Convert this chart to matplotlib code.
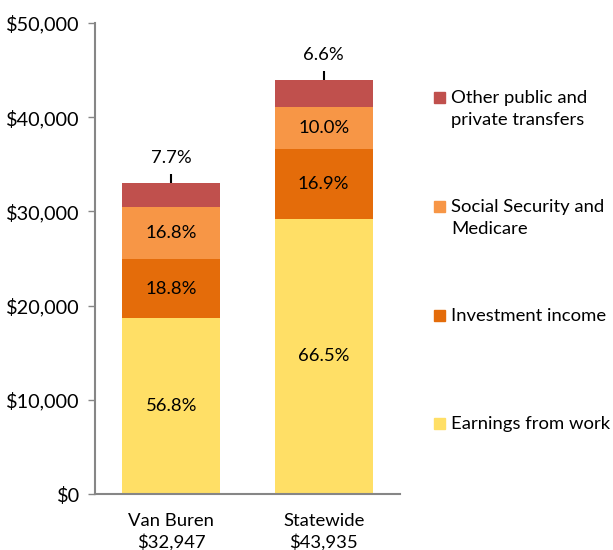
import matplotlib
matplotlib.use("Agg")
import matplotlib.pyplot as plt
from matplotlib.patches import Rectangle
import numpy as np

plt.rcParams['font.family'] = ['Lato', 'DejaVu Sans']

places = ["Van Buren", "Statewide"]
totals = [32947, 43935]
categories = ["Earnings from work", "Investment income",
              "Social Security and\nMedicare", "Other public and\nprivate transfers"]
pct_earnings = [56.8, 66.5]
pct_investment = [18.8, 16.9]
pct_social = [16.8, 10.0]
pct_other = [7.7, 6.6]
colors = ["#FFDF66", "#E46C0A", "#F79646", "#C0504D"]
yticks = [0, 10000, 20000, 30000, 40000, 50000]

pcts = [pct_earnings, pct_investment, pct_social, pct_other]

fig = plt.figure(figsize=(6.13, 5.5), dpi=100)
ax = fig.add_axes([95/613, 56/550, 305/613, 471/550])

x = np.arange(len(places))
bottom = np.zeros(len(places))
fs = 13.3
for k, (p, c) in enumerate(zip(pcts, colors)):
    vals = np.array(totals) * np.array(p) / 100.0
    ax.bar(x, vals, bottom=bottom, width=0.64, color=c, edgecolor='none')
    for i in range(len(places)):
        if k < 3:
            ax.text(x[i], bottom[i] + vals[i] / 2, f"{p[i]:.1f}%",
                    ha='center', va='center', fontsize=fs, color='black')
    bottom = bottom + vals

# top segment labels with leader lines
for i in range(len(places)):
    top = bottom[i]
    ax.plot([x[i], x[i]], [top, top + 1000], color='black', lw=1.5,
            solid_capstyle='butt')
    ax.text(x[i], top + 2700, f"{pct_other[i]:.1f}%", ha='center',
            va='center', fontsize=fs, color='black')

ax.set_xlim(-0.5, 1.5)
ax.set_ylim(0, 50000)
ax.set_yticks(yticks)
ax.set_yticklabels([f"${v:,}" for v in yticks], fontsize=14.3)
ax.set_xticks(x)
ax.set_xticklabels([f"{n}\n${t:,}" for n, t in zip(places, totals)],
                   fontsize=fs, linespacing=1.3)
ax.tick_params(axis='x', length=0, pad=14)
ax.tick_params(axis='y', length=5, width=1, color='#868686', pad=6)
for s in ['top', 'right']:
    ax.spines[s].set_visible(False)
for s in ['left', 'bottom']:
    ax.spines[s].set_color('#868686')
    ax.spines[s].set_linewidth(1.5)

# legend (manual, evenly spaced, top-aligned)
leg_items = list(zip(categories, colors))[::-1]
ys = [98, 207, 316, 424]
for (lab, c), yy in zip(leg_items, ys):
    fig.add_artist(Rectangle((434/613, 1 - (yy + 5)/550), 11/613, 11/550,
                             transform=fig.transFigure, color=c))
    fig.text(451/613, 1 - (yy - 8)/550, lab, ha='left', va='top',
             fontsize=fs, linespacing=1.5)

fig.savefig("out.png", dpi=100)
